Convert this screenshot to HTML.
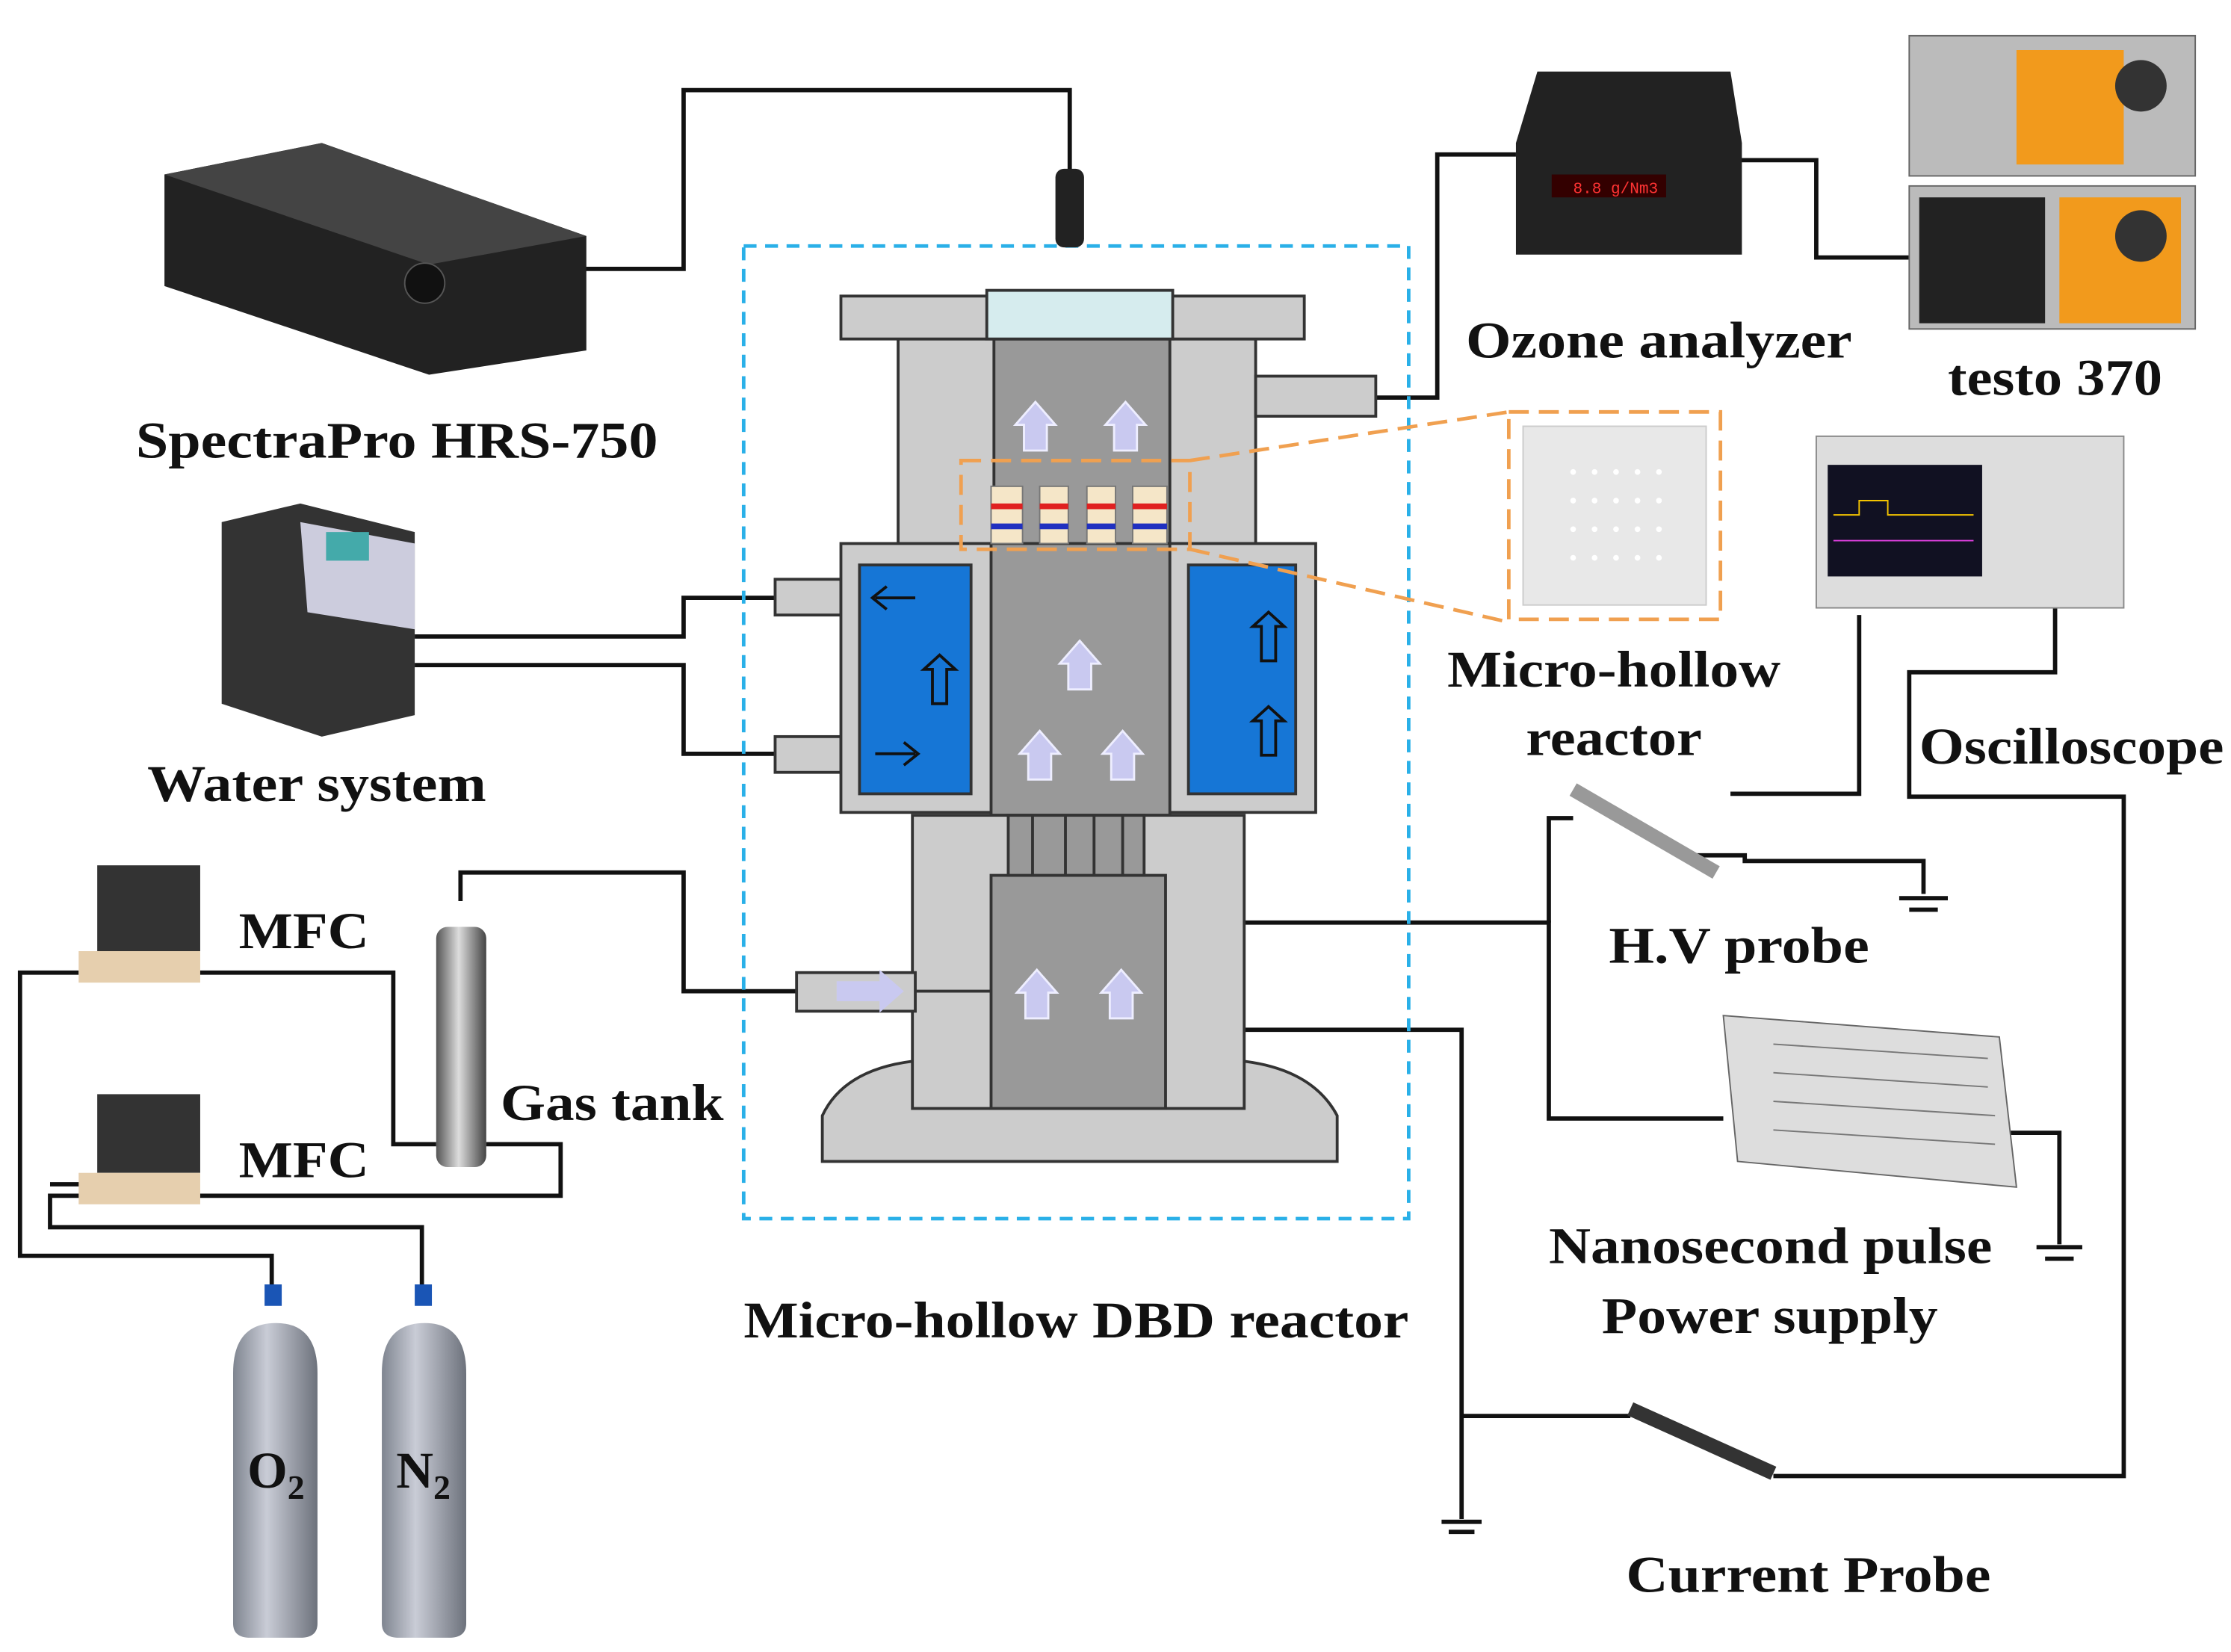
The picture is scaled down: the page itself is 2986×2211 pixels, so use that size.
<!DOCTYPE html>
<html><head><meta charset="utf-8"><style>
html,body{margin:0;padding:0;background:#fff}
svg{display:block}
text{font-family:"Liberation Serif",serif;font-weight:bold;fill:#111}
</style></head><body>
<svg width="2986" height="2211" viewBox="0 0 1560 1155" preserveAspectRatio="none" xmlns="http://www.w3.org/2000/svg">
<defs>
<linearGradient id="cyl" x1="0" x2="1"><stop offset="0" stop-color="#7f8590"/><stop offset=".4" stop-color="#c9ccd6"/><stop offset="1" stop-color="#6d727c"/></linearGradient>
<linearGradient id="tank" x1="0" x2="1"><stop offset="0" stop-color="#555"/><stop offset=".45" stop-color="#ddd"/><stop offset="1" stop-color="#444"/></linearGradient>
<g id="up"><path d="M-8 20 V2 H-14 L0 -14 L14 2 H8 V20 Z" fill="#c9c9f0" stroke="#eef" stroke-width="1.5"/></g>
</defs>
<rect width="1560" height="1155" fill="#fff"/>
<g fill="none" stroke="#111" stroke-width="3">
<path d="M400 188 H478 V63 H748 V120"/>
<path d="M962 278 H1005 V108 H1060"/>
<path d="M1215 112 H1270 V180 H1470"/>
<path d="M290 445 H478 V418 H542"/>
<path d="M290 465 H478 V527 H542"/>
<path d="M322 630 V610 H478 V693 H557"/>
<path d="M138 680 H275 V800 H305"/>
<path d="M340 800 H392 V836 H35 V858 H295 V905"/>
<path d="M55 680 H14 V878 H190 V905"/>
<path d="M138 828 H35"/>
<path d="M870 645 H1083 V782 H1205"/>
<path d="M1083 645 V572 H1100"/>
<path d="M1180 598 H1220 V602 H1345 V625"/>
<path d="M1300 430 V555 H1210"/>
<path d="M1437 420 V470 H1335 V557 H1485 V1032 H1240"/>
<path d="M870 720 H1022 V1062"/>
<path d="M1022 990 H1140"/>
<path d="M1405 792 H1440 V870"/>
</g>
<g stroke="#111" stroke-width="3">
<line x1="1328" y1="628" x2="1362" y2="628"/><line x1="1335" y1="636" x2="1355" y2="636"/>
<line x1="1424" y1="872" x2="1456" y2="872"/><line x1="1430" y1="880" x2="1450" y2="880"/>
<line x1="1008" y1="1064" x2="1036" y2="1064"/><line x1="1013" y1="1071" x2="1031" y2="1071"/>
</g>
<rect x="520" y="172" width="465" height="680" fill="none" stroke="#2ab0e8" stroke-width="2.5" stroke-dasharray="9,6"/>
<g stroke="#333" stroke-width="2">
<rect x="628" y="237" width="250" height="143" fill="#ccc"/>
<rect x="695" y="237" width="123" height="143" fill="#999"/>
<rect x="588" y="207" width="324" height="30" fill="#ccc"/>
<rect x="690" y="203" width="130" height="34" fill="#d6ecee"/>
<rect x="878" y="263" width="84" height="28" fill="#ccc"/>
<rect x="542" y="405" width="46" height="25" fill="#ccc"/>
<rect x="542" y="515" width="46" height="25" fill="#ccc"/>
<rect x="588" y="380" width="332" height="188" fill="#ccc"/>
<rect x="693" y="380" width="125" height="190" fill="#999"/>
<rect x="601" y="395" width="78" height="160" fill="#1676d6"/>
<rect x="831" y="395" width="75" height="160" fill="#1676d6"/>
<path d="M575 812 V780 Q590 748 638 742 H870 Q918 748 935 780 V812 Z" fill="#ccc"/>
<rect x="638" y="570" width="232" height="205" fill="#ccc"/>
<rect x="693" y="612" width="122" height="163" fill="#999"/>
<rect x="705" y="570" width="95" height="42" fill="#999"/>
<line x1="722" y1="570" x2="722" y2="612"/><line x1="745" y1="570" x2="745" y2="612"/><line x1="765" y1="570" x2="765" y2="612"/><line x1="785" y1="570" x2="785" y2="612"/>
<rect x="557" y="680" width="83" height="27" fill="#ccc"/>
<line x1="640" y1="693" x2="693" y2="693"/>
</g>
<path d="M585 686 H615 V678 L632 693 L615 708 V700 H585 Z" fill="#c9c9f0"/>
<g>
<use href="#up" x="724" y="295"/><use href="#up" x="787" y="295"/>
<use href="#up" x="755" y="462"/><use href="#up" x="727" y="525"/><use href="#up" x="785" y="525"/>
<use href="#up" x="725" y="692"/><use href="#up" x="784" y="692"/>
</g>
<g fill="none" stroke="#111" stroke-width="2">
<path d="M640 418 H612 M620 410 L610 418 L620 426"/>
<path d="M612 527 H640 M632 519 L642 527 L632 535"/>
<path d="M652 492 V468 H646 L657 458 L668 468 H662 V492 Z"/>
<path d="M882 462 V438 H876 L887 428 L898 438 H892 V462 Z"/>
<path d="M882 528 V504 H876 L887 494 L898 504 H892 V528 Z"/>
</g>
<g>
<rect x="693" y="340" width="22" height="40" fill="#f5e6c8" stroke="#777"/>
<rect x="727" y="340" width="20" height="40" fill="#f5e6c8" stroke="#777"/>
<rect x="760" y="340" width="20" height="40" fill="#f5e6c8" stroke="#777"/>
<rect x="792" y="340" width="24" height="40" fill="#f5e6c8" stroke="#777"/>
<g fill="#e02020"><rect x="693" y="352" width="22" height="4"/><rect x="727" y="352" width="20" height="4"/><rect x="760" y="352" width="20" height="4"/><rect x="792" y="352" width="24" height="4"/></g>
<g fill="#2030c0"><rect x="693" y="366" width="22" height="4"/><rect x="727" y="366" width="20" height="4"/><rect x="760" y="366" width="20" height="4"/><rect x="792" y="366" width="24" height="4"/></g>
</g>
<g fill="none" stroke="#f0a050" stroke-width="2.5" stroke-dasharray="14,7">
<rect x="672" y="322" width="160" height="62"/>
<path d="M832 322 L1055 288 M832 384 L1055 435"/>
<rect x="1055" y="288" width="148" height="145"/>
</g>
<rect x="1065" y="298" width="128" height="125" fill="#e8e8e8" stroke="#ccc"/>
<g fill="#fff">
<circle cx="1100" cy="330" r="2"/><circle cx="1115" cy="330" r="2"/><circle cx="1130" cy="330" r="2"/><circle cx="1145" cy="330" r="2"/><circle cx="1160" cy="330" r="2"/>
<circle cx="1100" cy="350" r="2"/><circle cx="1115" cy="350" r="2"/><circle cx="1130" cy="350" r="2"/><circle cx="1145" cy="350" r="2"/><circle cx="1160" cy="350" r="2"/>
<circle cx="1100" cy="370" r="2"/><circle cx="1115" cy="370" r="2"/><circle cx="1130" cy="370" r="2"/><circle cx="1145" cy="370" r="2"/><circle cx="1160" cy="370" r="2"/>
<circle cx="1100" cy="390" r="2"/><circle cx="1115" cy="390" r="2"/><circle cx="1130" cy="390" r="2"/><circle cx="1145" cy="390" r="2"/><circle cx="1160" cy="390" r="2"/>
</g>
<path d="M115 122 L225 100 L410 165 L410 245 L300 262 L115 200 Z" fill="#222"/>
<path d="M115 122 L225 100 L410 165 L300 185 Z" fill="#444"/>
<circle cx="297" cy="198" r="14" fill="#111" stroke="#555"/>
<rect x="738" y="118" width="20" height="55" rx="6" fill="#222"/>
<path d="M155 365 L210 352 L290 372 L290 500 L225 515 L155 492 Z" fill="#333"/>
<path d="M210 365 L290 380 L290 440 L215 428 Z" fill="#ccd"/>
<rect x="228" y="372" width="30" height="20" fill="#4aa"/>
<path d="M1060 100 L1075 50 L1210 50 L1218 100 L1218 178 L1060 178 Z" fill="#222"/>
<rect x="1085" y="122" width="80" height="16" fill="#300"/>
<text x="1100" y="135" style="font-family:'Liberation Mono',monospace;font-size:11px;fill:#f33;font-weight:normal">8.8 g/Nm3</text>
<rect x="1335" y="25" width="200" height="98" fill="#bbb" stroke="#666"/>
<rect x="1410" y="35" width="75" height="80" fill="#f29a1c"/>
<circle cx="1497" cy="60" r="18" fill="#333"/>
<rect x="1335" y="130" width="200" height="100" fill="#bbb" stroke="#666"/>
<rect x="1342" y="138" width="88" height="88" fill="#222"/>
<rect x="1440" y="138" width="85" height="88" fill="#f29a1c"/>
<circle cx="1497" cy="165" r="18" fill="#333"/>
<rect x="1270" y="305" width="215" height="120" fill="#ddd" stroke="#888"/>
<rect x="1278" y="325" width="108" height="78" fill="#112"/>
<path d="M1282 360 H1300 V350 H1320 V360 H1380" stroke="#f4c400" fill="none"/>
<path d="M1282 378 H1380" stroke="#e040e0" fill="none"/>
<path d="M1100 552 L1200 610" stroke="#999" stroke-width="10"/>
<path d="M1140 985 L1240 1030" stroke="#333" stroke-width="10"/>
<path d="M1205 710 L1398 725 L1410 830 L1215 812 Z" fill="#ddd" stroke="#666"/>
<g stroke="#777">
<line x1="1240" y1="730" x2="1390" y2="740"/><line x1="1240" y1="750" x2="1390" y2="760"/><line x1="1240" y1="770" x2="1395" y2="780"/><line x1="1240" y1="790" x2="1395" y2="800"/>
</g>
<rect x="305" y="648" width="35" height="168" rx="8" fill="url(#tank)"/>
<rect x="68" y="605" width="72" height="60" fill="#333"/>
<rect x="55" y="665" width="85" height="22" fill="#e6cfae"/>
<rect x="68" y="765" width="72" height="55" fill="#333"/>
<rect x="55" y="820" width="85" height="22" fill="#e6cfae"/>
<rect x="185" y="898" width="12" height="15" fill="#1a55b5"/>
<rect x="290" y="898" width="12" height="15" fill="#1a55b5"/>
<path d="M163 960 Q163 925 193 925 Q222 925 222 960 V1135 Q222 1145 210 1145 H175 Q163 1145 163 1135 Z" fill="url(#cyl)"/>
<path d="M267 960 Q267 925 297 925 Q326 925 326 960 V1135 Q326 1145 314 1145 H279 Q267 1145 267 1135 Z" fill="url(#cyl)"/>
<text x="173" y="1040" font-size="36">O<tspan font-size="24" dy="8">2</tspan></text>
<text x="277" y="1040" font-size="36">N<tspan font-size="24" dy="8">2</tspan></text>
<g font-size="36" lengthAdjust="spacingAndGlyphs">
<text x="95" y="320" textLength="365" lengthAdjust="spacingAndGlyphs">SpectraPro HRS-750</text>
<text x="103" y="560" textLength="237" lengthAdjust="spacingAndGlyphs">Water system</text>
<text x="167" y="663" textLength="91" lengthAdjust="spacingAndGlyphs">MFC</text>
<text x="167" y="823" textLength="91" lengthAdjust="spacingAndGlyphs">MFC</text>
<text x="350" y="783" textLength="156" lengthAdjust="spacingAndGlyphs">Gas tank</text>
<text x="520" y="935" textLength="465" lengthAdjust="spacingAndGlyphs">Micro-hollow DBD reactor</text>
<text x="1025" y="250" textLength="270" lengthAdjust="spacingAndGlyphs">Ozone analyzer</text>
<text x="1362" y="276" textLength="150" lengthAdjust="spacingAndGlyphs">testo 370</text>
<text x="1012" y="480" textLength="233" lengthAdjust="spacingAndGlyphs">Micro-hollow</text>
<text x="1067" y="528" textLength="123" lengthAdjust="spacingAndGlyphs">reactor</text>
<text x="1342" y="534" textLength="213" lengthAdjust="spacingAndGlyphs">Oscilloscope</text>
<text x="1125" y="673" textLength="182" lengthAdjust="spacingAndGlyphs">H.V probe</text>
<text x="1083" y="883" textLength="310" lengthAdjust="spacingAndGlyphs">Nanosecond pulse</text>
<text x="1120" y="932" textLength="235" lengthAdjust="spacingAndGlyphs">Power supply</text>
<text x="1137" y="1113" textLength="255" lengthAdjust="spacingAndGlyphs">Current Probe</text>
</g>
</svg>
</body></html>
